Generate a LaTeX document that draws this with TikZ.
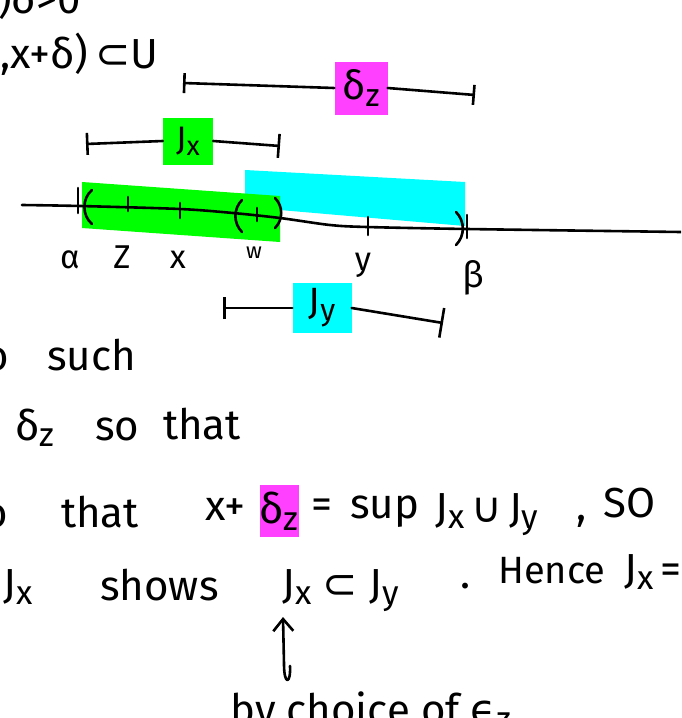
\documentclass[tikz,border=0pt]{standalone}
\usepackage{fontspec}
\setmainfont{Fira Sans}
\newfontfamily\dejavu{DejaVu Sans}
\usetikzlibrary{arrows.meta,positioning}
\definecolor{hlgreen}{RGB}{0,255,0}
\definecolor{hlcyan}{RGB}{0,255,255}
\definecolor{hlpink}{RGB}{255,64,255}
\newcommand{\lo}[1]{\raisebox{-0.3ex}{\scalebox{0.8}{#1}}}

\begin{document}
\begin{tikzpicture}[
    x=1pt, y=-1pt,
    hand/.style={font=\fontsize{42}{48}\selectfont, inner sep=0pt, anchor=base west},
    lbl/.style={font=\fontsize{33}{36}\selectfont, inner sep=0pt, anchor=base},
    tag/.style={fill=#1, font=\fontsize{34}{40}\selectfont, inner sep=0pt, minimum width=50pt, minimum height=47pt},
    ink/.style={line width=2.6pt, line cap=round, line join=round},
    >=Stealth
]
    \useasboundingbox (0,0) rectangle (681,718);
    \clip (0,0) rectangle (681,718);

    % cut-off lines at the top
    \node[hand] (dpos) at (-2,13) {)δ>0};
    \node[hand] (ball) at (0,68) {,x+δ)\,{\dejavu ⊂}U};

    % delta_z interval
    \node[tag=hlpink, minimum width=53pt, minimum height=53pt, font=\fontsize{40}{44}\selectfont] (dz) at (361,88) {δ\lo{z}};
    \coordinate (dzL) at (183,83);
    \coordinate (dzR) at (475,95);
    \draw[ink, {Bar[width=20pt]}-] (dzL) -- (dz.west);
    \draw[ink, -{Bar[width=20pt]}] (dz.east) -- (dzR);

    % J_x interval
    \node[tag=hlgreen] (jx) at (188,141) {J\lo{x}};
    \coordinate (jxL) at (86,144);
    \coordinate (jxR) at (280,146);
    \draw[ink, {Bar[width=22pt]}-] (jxL) -- (jx.west);
    \draw[ink, -{Bar[width=24pt]}] (jx.east) -- (jxR);

    % highlights on the line
    \fill[hlcyan] (245,170) -- (465,182) -- (465,226) -- (280,210) -- (245,205) -- cycle;
    \fill[hlgreen] (82,182) -- (280,196) -- (280,242) -- (82,228) -- cycle;

    % number line
    \draw[ink] plot[smooth] coordinates {(22,205) (80,206) (180,209) (233,213) (280,218) (330,225) (367,227) (467,229) (681,232)};
    \draw[ink] (78,188) -- (78,213);
    \draw[ink] (92,190) to[bend right=50] (92,224);
    \draw[ink] (128,197) -- (128,211);
    \draw[ink] (180,203) -- (180,218);
    \draw[ink] (242,200) to[bend right=45] (242,232);
    \draw[ink] (257,208) -- (257,221);
    \draw[ink] (275,198) to[bend left=45] (275,228);
    \draw[ink] (368,217) -- (368,235);
    \draw[ink] (456,212) to[bend left=45] (456,245);
    \draw[ink] (467,215) -- (467,238);

    % points on the line
    \node[lbl] (alpha) at (70,268) {α};
    \node[lbl] (zpt) at (122,268) {Z};
    \node[lbl] (xpt) at (178,268) {x};
    \node[lbl, font=\fontsize{22}{24}\selectfont] (wpt) at (254,258) {w};
    \node[lbl] (ypt) at (363,270) {y};
    \node[lbl, font=\fontsize{36}{40}\selectfont] (beta) at (473,287) {β};

    % J_y interval
    \node[tag=hlcyan, minimum width=59pt, minimum height=50pt, font=\fontsize{38}{42}\selectfont] (jy) at (322,308) {J\lo{y}};
    \coordinate (jyL) at (223,308);
    \coordinate (jyR) at (443,323);
    \draw[ink, {Bar[width=22pt]}-] (jyL) -- (jy.west);
    \draw[ink, -{Bar[width=30pt]}] (jy.east) -- (jyR);

    % text below
    \node[hand] (o1) at (-16,370) {o};
    \node[hand] (such) at (47,370) {such};
    \node[hand] (dz2) at (15,440) {δ\lo{z}};
    \node[hand] (so) at (95,440) {so};
    \node[hand] (that1) at (163,439) {that};

    \node[hand] (o2) at (-17,527) {o};
    \node[hand] (that2) at (61,527) {that};
    \node[hand] (xplus) at (205,520) {x+};
    \node[tag=hlpink, minimum width=38pt, minimum height=52pt, font=\fontsize{42}{48}\selectfont] (dz3) at (279,511) {δ\lo{z}};
    \node[hand] (eq1) at (311,518) {=};
    \node[hand] (sup) at (350,518) {sup};
    \node[hand] (union) at (435,522) {J\lo{x}\,{\dejavu ∪}\,J\lo{y}};
    \node[hand] (comma) at (576,520) {,};
    \node[hand] (so2) at (603,517) {SO};

    \node[hand] (jx2) at (3,598) {J\lo{x}};
    \node[hand] (shows) at (100,600) {shows};
    \node[hand] (sub) at (282,598) {J\lo{x}\;{\dejavu ⊂}\;J\lo{y}};
    \node[hand] (dot) at (460,588) {.};
    \node[hand, font=\fontsize{38}{44}\selectfont] (hence) at (498,583) {Hence};
    \node[hand] (jx3) at (624,583) {J\lo{x}\,=};

    % arrow from the reason
    \node[hand] (choice) at (230,724) {by choice of {\dejavu ϵ}\lo{z}};
    \coordinate (tail) at (290,666);
    \coordinate (tip) at (283,617);
    \draw[ink, -{Straight Barb[length=12pt,width=20pt]}] (tail) .. controls (291,684) and (284,686) .. (284,664) -- (tip);
\end{tikzpicture}
\end{document}
